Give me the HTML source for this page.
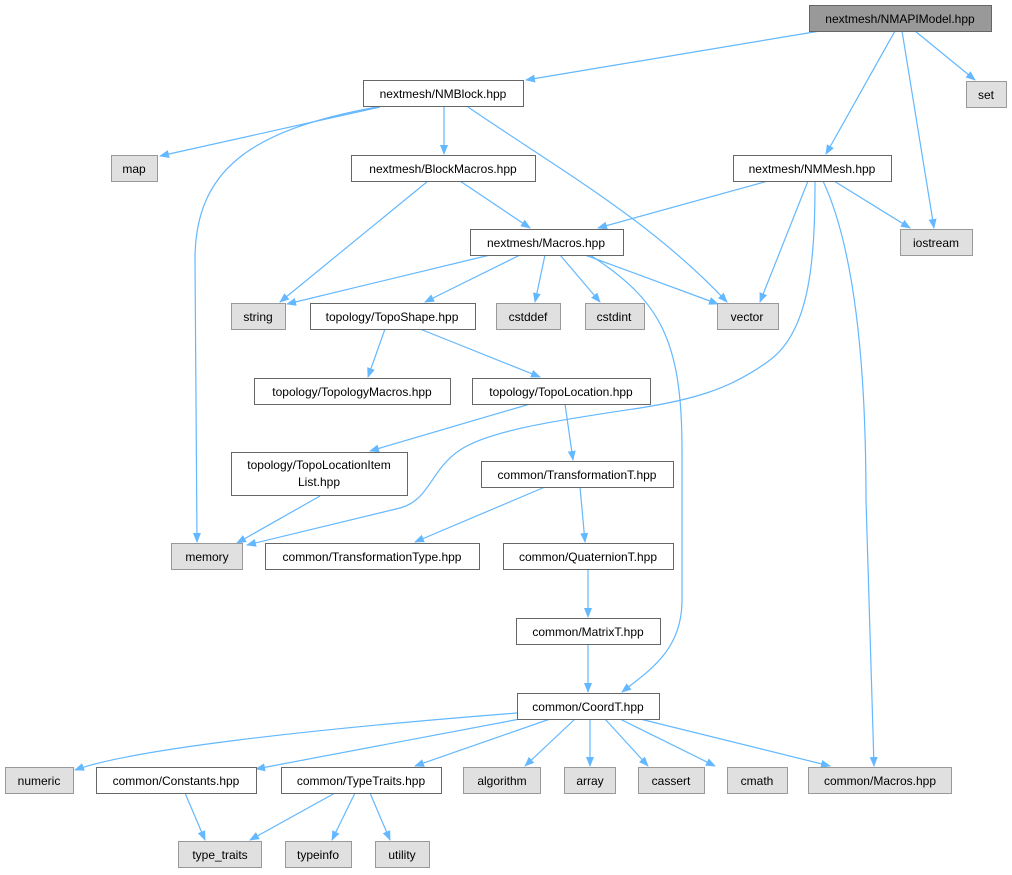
<!DOCTYPE html>
<html><head><meta charset="utf-8"><style>
html,body{margin:0;padding:0;background:#fff;width:1012px;height:875px;overflow:hidden}
svg text{font-family:"Liberation Sans",sans-serif;font-size:12px;fill:#000;text-anchor:middle}
</style></head><body>
<svg width="1012" height="875" viewBox="0 0 1012 875" xmlns="http://www.w3.org/2000/svg">
<defs><marker id="a" viewBox="0 0 10 10" refX="9" refY="5" markerWidth="10" markerHeight="10" markerUnits="userSpaceOnUse" orient="auto"><path d="M0,1 L10,5 L0,9 z" fill="#63b8ff"/></marker></defs>
<g fill="none" stroke="#63b8ff" stroke-width="1.2" marker-end="url(#a)">
<path d="M820,31 L526,80"/>
<path d="M915,31 L975,80"/>
<path d="M895,31 L826,154"/>
<path d="M902,31 L934,228"/>
<path d="M380,107 L160,156"/>
<path d="M377,107 C250,130 195,170 195,260 L197,542"/>
<path d="M444,107 L444,154"/>
<path d="M468,107 C560,170 650,220 727,302"/>
<path d="M428,181 L280,302"/>
<path d="M460,181 L530,228"/>
<path d="M768,181 L598,228"/>
<path d="M834,181 L910,228"/>
<path d="M808,181 L760,302"/>
<path d="M815,181 C815,260 810,330 770,360 C730,390 690,400 640,408 C560,420 490,430 460,450 C430,470 430,500 400,508 L247,545"/>
<path d="M823,181 C860,260 866,400 866,500 L874,766"/>
<path d="M490,255 L287,304"/>
<path d="M520,255 L425,302"/>
<path d="M545,255 L535,302"/>
<path d="M560,255 L600,302"/>
<path d="M585,255 L718,304"/>
<path d="M590,255 C660,300 682,340 682,450 L682,600 C682,650 650,670 622,692"/>
<path d="M385,329 L368,377"/>
<path d="M420,329 L540,377"/>
<path d="M530,404 L370,451"/>
<path d="M565,404 L573,460"/>
<path d="M320,496 L237,543"/>
<path d="M545,487 L415,542"/>
<path d="M580,487 L585,542"/>
<path d="M588,569 L588,617"/>
<path d="M588,644 L588,692"/>
<path d="M517,713 C300,730 130,750 75,770"/>
<path d="M520,719 L256,769"/>
<path d="M550,719 L415,766"/>
<path d="M575,719 L525,766"/>
<path d="M590,719 L590,766"/>
<path d="M605,719 L648,766"/>
<path d="M620,719 L715,766"/>
<path d="M640,719 L830,766"/>
<path d="M185,793 L205,840"/>
<path d="M335,793 L250,840"/>
<path d="M355,793 L332,840"/>
<path d="M370,793 L390,840"/>
</g>
<g stroke-width="1">
<rect x="809.5" y="5.5" width="182" height="26" fill="#999" stroke="#666"/>
<g fill="#fff" stroke="#666">
<rect x="363.5" y="80.5" width="160" height="26"/>
<rect x="351.5" y="155.5" width="184" height="26"/>
<rect x="733.5" y="155.5" width="158" height="26"/>
<rect x="470.5" y="229.5" width="153" height="26"/>
<rect x="310.5" y="303.5" width="165" height="26"/>
<rect x="254.5" y="378.5" width="196" height="26"/>
<rect x="472.5" y="378.5" width="178" height="26"/>
<rect x="231.5" y="452.5" width="176" height="43"/>
<rect x="481.5" y="461.5" width="192" height="26"/>
<rect x="265.5" y="543.5" width="214" height="26"/>
<rect x="503.5" y="543.5" width="170" height="26"/>
<rect x="516.5" y="618.5" width="144" height="26"/>
<rect x="517.5" y="693.5" width="142" height="26"/>
<rect x="96.5" y="767.5" width="160" height="26"/>
<rect x="281.5" y="767.5" width="160" height="26"/>
</g>
<g fill="#e0e0e0" stroke="#999">
<rect x="966.5" y="81.5" width="40" height="26"/>
<rect x="111.5" y="155.5" width="46" height="26"/>
<rect x="900.5" y="229.5" width="72" height="26"/>
<rect x="231.5" y="303.5" width="54" height="26"/>
<rect x="496.5" y="303.5" width="64" height="26"/>
<rect x="585.5" y="303.5" width="59" height="26"/>
<rect x="717.5" y="303.5" width="61" height="26"/>
<rect x="171.5" y="543.5" width="71" height="26"/>
<rect x="5.5" y="767.5" width="68" height="26"/>
<rect x="463.5" y="767.5" width="77" height="26"/>
<rect x="564.5" y="767.5" width="51" height="26"/>
<rect x="638.5" y="767.5" width="66" height="26"/>
<rect x="727.5" y="767.5" width="60" height="26"/>
<rect x="808.5" y="767.5" width="143" height="26"/>
<rect x="178.5" y="841.5" width="83" height="26"/>
<rect x="285.5" y="841.5" width="66" height="26"/>
<rect x="375.5" y="841.5" width="54" height="26"/>
</g>
</g>
<text x="900" y="23">nextmesh/NMAPIModel.hpp</text>
<text x="443" y="98">nextmesh/NMBlock.hpp</text>
<text x="986" y="99">set</text>
<text x="134" y="173">map</text>
<text x="443" y="173">nextmesh/BlockMacros.hpp</text>
<text x="812" y="173">nextmesh/NMMesh.hpp</text>
<text x="936" y="247">iostream</text>
<text x="546" y="247">nextmesh/Macros.hpp</text>
<text x="258" y="321">string</text>
<text x="392" y="321">topology/TopoShape.hpp</text>
<text x="528" y="321">cstddef</text>
<text x="614" y="321">cstdint</text>
<text x="747" y="321">vector</text>
<text x="352" y="396">topology/TopologyMacros.hpp</text>
<text x="561" y="396">topology/TopoLocation.hpp</text>
<text x="319" y="469">topology/TopoLocationItem</text>
<text x="319" y="486">List.hpp</text>
<text x="577" y="479">common/TransformationT.hpp</text>
<text x="207" y="561">memory</text>
<text x="372" y="561">common/TransformationType.hpp</text>
<text x="588" y="561">common/QuaternionT.hpp</text>
<text x="588" y="636">common/MatrixT.hpp</text>
<text x="588" y="711">common/CoordT.hpp</text>
<text x="39" y="785">numeric</text>
<text x="176" y="785">common/Constants.hpp</text>
<text x="361" y="785">common/TypeTraits.hpp</text>
<text x="502" y="785">algorithm</text>
<text x="590" y="785">array</text>
<text x="671" y="785">cassert</text>
<text x="757" y="785">cmath</text>
<text x="880" y="785">common/Macros.hpp</text>
<text x="220" y="859">type_traits</text>
<text x="318" y="859">typeinfo</text>
<text x="402" y="859">utility</text>
</svg>
</body></html>
